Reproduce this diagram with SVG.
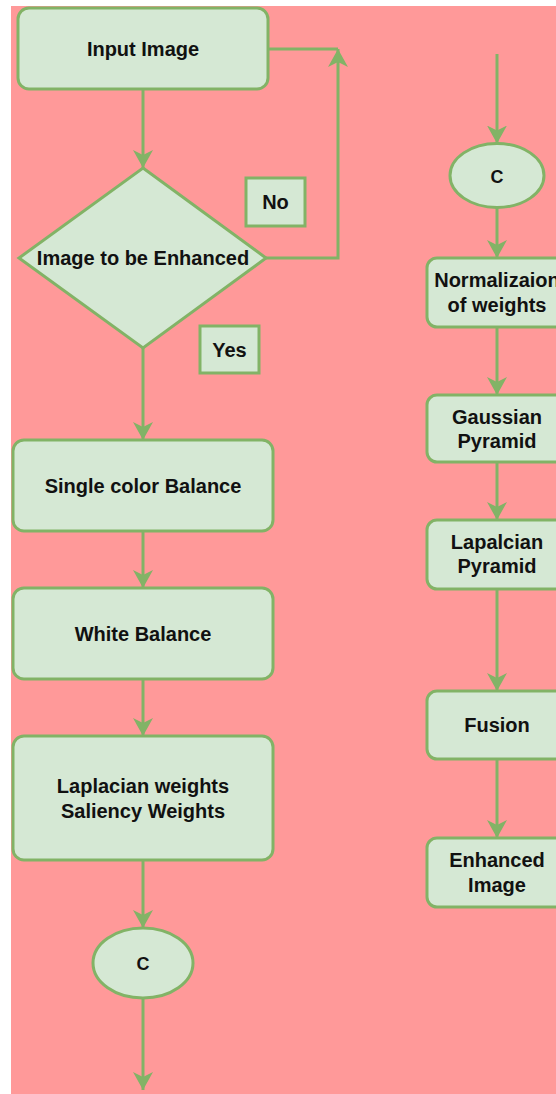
<svg xmlns="http://www.w3.org/2000/svg" width="556" height="1094" viewBox="0 0 556 1094">
<style>
.n{fill:#d5e8d4;stroke:#82b366;stroke-width:3}
.e{fill:none;stroke:#82b366;stroke-width:3}
.t{font-family:"Liberation Sans",Arial,sans-serif;font-weight:bold;font-size:20px;text-anchor:middle;fill:#111}
.c{font-size:18px}
</style>
<defs>
<marker id="arr" markerUnits="userSpaceOnUse" viewBox="0 0 18 20" refX="18" refY="10" markerWidth="18" markerHeight="20" orient="auto">
<path d="M0,0 L18,10 L0,20 L5,10 Z" fill="#82b366"/>
</marker>
</defs>
<rect x="0" y="0" width="556" height="1094" fill="#ffffff"/>
<rect x="11" y="6" width="545" height="1088" fill="#ff9999"/>
<g id="connectors">
<path class="e" d="M143,89 L143,168" marker-end="url(#arr)"/>
<path class="e" d="M268,49 L338,49"/>
<path class="e" d="M266,258 L338,258 L338,49" marker-end="url(#arr)"/>
<path class="e" d="M143,348 L143,440" marker-end="url(#arr)"/>
<path class="e" d="M143,531 L143,588" marker-end="url(#arr)"/>
<path class="e" d="M143,679 L143,736" marker-end="url(#arr)"/>
<path class="e" d="M143,860 L143,928" marker-end="url(#arr)"/>
<path class="e" d="M143,998 L143,1090" marker-end="url(#arr)"/>
<path class="e" d="M497,54 L497,143.5" marker-end="url(#arr)"/>
<path class="e" d="M497,207.5 L497,258" marker-end="url(#arr)"/>
<path class="e" d="M497,327 L497,395" marker-end="url(#arr)"/>
<path class="e" d="M497,462 L497,520" marker-end="url(#arr)"/>
<path class="e" d="M497,589 L497,691" marker-end="url(#arr)"/>
<path class="e" d="M497,759 L497,838" marker-end="url(#arr)"/>
</g>
<g id="input-image">
<rect class="n" x="18" y="8" width="250" height="81" rx="11"/>
<text class="t" x="143" y="56">Input Image</text>
</g>
<g id="decision">
<polygon class="n" points="143,168 266,258 143,348 19,258"/>
<text class="t" x="143" y="265">Image to be Enhanced</text>
</g>
<g id="label-no">
<rect class="n" x="246" y="178" width="59" height="48"/>
<text class="t" x="275.5" y="209">No</text>
</g>
<g id="label-yes">
<rect class="n" x="200" y="326" width="59" height="47"/>
<text class="t" x="229.5" y="357">Yes</text>
</g>
<g id="single-color">
<rect class="n" x="13" y="440" width="260" height="91" rx="11"/>
<text class="t" x="143" y="493">Single color Balance</text>
</g>
<g id="white-balance">
<rect class="n" x="13" y="588" width="260" height="91" rx="11"/>
<text class="t" x="143" y="641">White Balance</text>
</g>
<g id="weights">
<rect class="n" x="13" y="736" width="260" height="124" rx="11"/>
<text class="t" x="143" y="793">Laplacian weights</text>
<text class="t" x="143" y="818">Saliency Weights</text>
</g>
<g id="connector-left">
<ellipse class="n" cx="143" cy="963" rx="50" ry="35"/>
<text class="t c" x="143" y="970">C</text>
</g>
<g id="connector-right">
<ellipse class="n" cx="497" cy="175.5" rx="47" ry="32"/>
<text class="t c" x="497" y="183">C</text>
</g>
<g id="normalization">
<rect class="n" x="427" y="258" width="140" height="69" rx="10"/>
<text class="t" x="497" y="287">Normalizaion</text>
<text class="t" x="497" y="312">of weights</text>
</g>
<g id="gaussian">
<rect class="n" x="427" y="395" width="140" height="67" rx="10"/>
<text class="t" x="497" y="424">Gaussian</text>
<text class="t" x="497" y="448">Pyramid</text>
</g>
<g id="laplacian-pyramid">
<rect class="n" x="427" y="520" width="140" height="69" rx="10"/>
<text class="t" x="497" y="549">Lapalcian</text>
<text class="t" x="497" y="573">Pyramid</text>
</g>
<g id="fusion">
<rect class="n" x="427" y="691" width="140" height="68" rx="10"/>
<text class="t" x="497" y="732">Fusion</text>
</g>
<g id="enhanced">
<rect class="n" x="427" y="838" width="140" height="69" rx="10"/>
<text class="t" x="497" y="867">Enhanced</text>
<text class="t" x="497" y="892">Image</text>
</g>
</svg>
